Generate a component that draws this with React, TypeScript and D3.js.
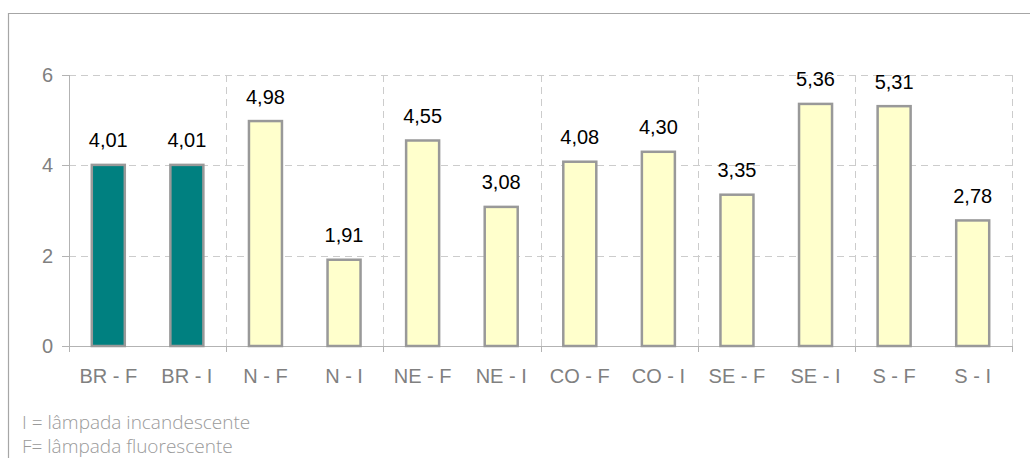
import * as d3 from "d3";
import { useEffect, useRef } from "react";

const categories = ["BR - F", "BR - I", "N - F", "N - I", "NE - F", "NE - I", "CO - F", "CO - I", "SE - F", "SE - I", "S - F", "S - I"];
const values = [4.01, 4.01, 4.98, 1.91, 4.55, 3.08, 4.08, 4.3, 3.35, 5.36, 5.31, 2.78];
const yTicks = [0, 2, 4, 6];
const notes = ["I = lâmpada incandescente", "F= lâmpada fluorescente"];

export default function App() {
  const width = 1030;
  const height = 458;
  const ref = useRef<SVGSVGElement>(null);

  useEffect(() => {
    const svg = d3.select(ref.current);
    svg.selectAll("*").remove();

    const left = 69;
    const right = 1012;
    const top = 75;
    const bottom = 346;

    const x = d3.scaleBand().domain(categories).range([left, right]).paddingInner(0.58).paddingOuter(0.29);
    const step = x.step();
    const y = d3.scaleLinear().domain([0, 6]).range([bottom, top]);

    // frame
    svg
      .append("path")
      .attr("d", `M8.5,${height} V13.5 H${width}`)
      .attr("fill", "none")
      .attr("stroke", "#a6a6a6")
      .attr("stroke-width", 1.2);

    // horizontal grid
    svg
      .append("g")
      .selectAll("line")
      .data(yTicks.filter((t) => t > 0))
      .join("line")
      .attr("x1", left)
      .attr("x2", right)
      .attr("y1", (d) => Math.round(y(d)) + 0.5)
      .attr("y2", (d) => Math.round(y(d)) + 0.5)
      .attr("stroke", "#cccccc")
      .attr("stroke-dasharray", "7,5");

    // vertical grid at group boundaries
    const bounds = d3.range(2, categories.length + 1, 2).map((i) => left + i * step);
    svg
      .append("g")
      .selectAll("line")
      .data(bounds)
      .join("line")
      .attr("x1", (d) => Math.round(d) + 0.5)
      .attr("x2", (d) => Math.round(d) + 0.5)
      .attr("y1", top)
      .attr("y2", bottom)
      .attr("stroke", "#cccccc")
      .attr("stroke-dasharray", "7,5");

    // axes
    const axisColor = "#b3b3b3";
    svg
      .append("line")
      .attr("x1", left + 0.5)
      .attr("x2", left + 0.5)
      .attr("y1", top)
      .attr("y2", bottom + 6)
      .attr("stroke", axisColor);
    svg
      .append("line")
      .attr("x1", left)
      .attr("x2", right)
      .attr("y1", bottom + 0.5)
      .attr("y2", bottom + 0.5)
      .attr("stroke", axisColor);
    svg
      .append("g")
      .selectAll("line")
      .data(yTicks)
      .join("line")
      .attr("x1", left - 7)
      .attr("x2", left)
      .attr("y1", (d) => Math.round(y(d)) + 0.5)
      .attr("y2", (d) => Math.round(y(d)) + 0.5)
      .attr("stroke", axisColor);
    svg
      .append("g")
      .selectAll("line")
      .data(bounds)
      .join("line")
      .attr("x1", (d) => Math.round(d) + 0.5)
      .attr("x2", (d) => Math.round(d) + 0.5)
      .attr("y1", bottom)
      .attr("y2", bottom + 6)
      .attr("stroke", axisColor);

    svg
      .append("g")
      .attr("font-family", "Liberation Sans, Arial, sans-serif")
      .attr("font-size", 20)
      .attr("fill", "#808080")
      .attr("text-anchor", "end")
      .selectAll("text")
      .data(yTicks)
      .join("text")
      .attr("x", 53)
      .attr("y", (d) => y(d) + 7)
      .text((d) => d);

    svg
      .append("g")
      .attr("font-family", "Liberation Sans, Arial, sans-serif")
      .attr("font-size", 20)
      .attr("fill", "#808080")
      .attr("text-anchor", "middle")
      .selectAll("text")
      .data(categories)
      .join("text")
      .attr("x", (d) => x(d)! + x.bandwidth() / 2)
      .attr("y", 383)
      .text((d) => d);

    // bars
    svg
      .append("g")
      .selectAll("rect")
      .data(values)
      .join("rect")
      .attr("x", (d, i) => x(categories[i])!)
      .attr("y", (d) => y(d))
      .attr("width", x.bandwidth())
      .attr("height", (d) => bottom - y(d))
      .attr("fill", (d, i) => (i < 2 ? "#008080" : "#ffffcc"))
      .attr("stroke", "#999999")
      .attr("stroke-width", 2.5);

    svg
      .append("g")
      .attr("font-family", "Liberation Sans, Arial, sans-serif")
      .attr("font-size", 20)
      .attr("fill", "#000")
      .attr("text-anchor", "middle")
      .selectAll("text")
      .data(values)
      .join("text")
      .attr("x", (d, i) => x(categories[i])! + x.bandwidth() / 2)
      .attr("y", (d) => y(d) - 17.5)
      .text((d) => d.toFixed(2).replace(".", ","));

    // footnote
    svg
      .append("g")
      .attr("font-family", "Open Sans, sans-serif")
      .attr("font-weight", 300)
      .attr("font-size", 19)
      .attr("fill", "#9a9a9a")
      .selectAll("text")
      .data(notes)
      .join("text")
      .attr("x", 22)
      .attr("y", (d, i) => 429 + i * 24)
      .text((d) => d);
  }, []);

  return (
    <div style={{ position: "absolute", left: 0, top: 0 }}>
      <svg ref={ref} width={width} height={height} style={{ display: "block" }}></svg>
    </div>
  );
}
